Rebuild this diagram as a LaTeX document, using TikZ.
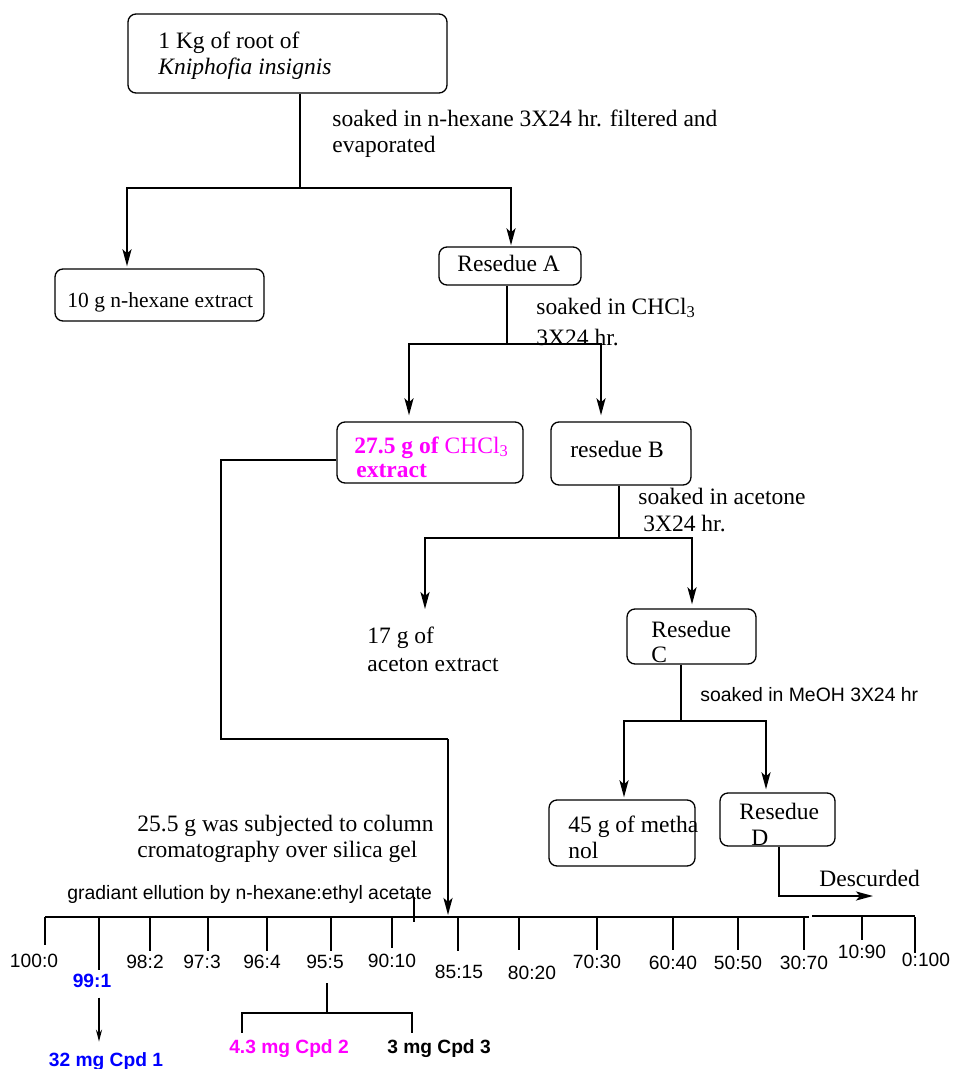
\documentclass[tikz,border=0pt]{standalone}
\usepackage{fontspec}
\setmainfont{Liberation Serif}
\setsansfont{Liberation Sans}
\usetikzlibrary{arrows.meta, positioning, fit}

\definecolor{cpdblue}{RGB}{0,0,255}
\definecolor{cpdpink}{RGB}{255,0,255}

\tikzset{
  stage/.style={draw, rounded corners=4pt, line width=0.65pt, inner sep=0pt},
  txt/.style={anchor=base west, inner sep=0pt, align=left,
    font=\fontsize{11.75}{13}\selectfont},
  stxt/.style={anchor=base west, inner sep=0pt,
    font=\sffamily\fontsize{9.7}{12}\selectfont},
  ratio/.style={anchor=base, inner sep=0pt,
    font=\sffamily\fontsize{9.6}{12}\selectfont},
  cpd/.style={anchor=base, inner sep=0pt,
    font=\sffamily\bfseries\fontsize{9.6}{12}\selectfont},
  flow/.style={line width=1.15pt},
  guide/.style={line width=0.6pt},
}

\begin{document}
\begin{tikzpicture}[x=0.5pt, y=-0.5pt, >={Stealth[length=8.5pt, width=4.5pt, inset=2pt]}]
    \useasboundingbox (0,0) rectangle (954,1069);

    % Define boxes
    \node[stage, fit={(128,14)(447,93)}] (root) {};
    \node[stage, fit={(55,269)(264,321)}] (hex) {};
    \node[stage, fit={(439,247)(581,285)}] (resA) {};
    \node[stage, fit={(337,422)(523,483)}] (chl) {};
    \node[stage, fit={(551,422)(691,485)}] (resB) {};
    \node[stage, fit={(627,609)(756,664)}] (resC) {};
    \node[stage, fit={(549,800)(695,866)}] (meth) {};
    \node[stage, fit={(720,793)(835,846)}] (resD) {};

    % Box texts (multi-line ones sit on their last line)
    \node[txt] (rootT) at (158,75) {1 Kg of root of\\\textit{Kniphofia insignis}};
    \node[txt, font=\fontsize{10.75}{13}\selectfont] (hexT) at (67,307) {10 g n-hexane extract};
    \node[txt] (resAT) at (457,271) {Resedue A};
    \node[txt, text=cpdpink] (chlT) at (354,477) {\textbf{27.5 g of} CHCl\textsubscript{3}\\[-1pt]\hspace{1pt}\textbf{extract}};
    \node[txt] (resBT) at (570,457) {resedue B};
    \node[txt] (resCT) at (651,662) {Resedue\\[-0.5pt]C};
    \node[txt] (methT) at (568,858) {45 g of metha\\nol};
    \node[txt] (resDT) at (739,845) {Resedue\\\hspace{6pt}D};
    \node[txt] (acet) at (367,671) {17 g of\\[1pt]aceton extract};
    \node[txt] (disc) at (819,886) {Descurded};

    % Conditions
    \node[txt] (s1) at (332,153) {soaked in n-hexane 3X24 hr. filtered and\\evaporated};
    \node[txt] (s2) at (536,345) {soaked in CHCl\textsubscript{3}\\[2.5pt]3X24 hr.};
    \node[txt] (s3) at (638,531) {soaked in acetone\\[0.5pt]\hspace{2.5pt}3X24 hr.};
    \node[stxt] (s4) at (700,701) {soaked in MeOH 3X24 hr};
    \node[txt] (col) at (137,857) {25.5 g was subjected to column\\cromatography over silica gel};
    \node[stxt] (grad) at (67,899) {gradiant ellution by n-hexane:ethyl acetate};

    % Junctions
    \coordinate (j1) at (300,188);
    \coordinate (j1l) at (127,188);
    \coordinate (j1r) at (511,188);
    \coordinate (j2) at (507,344);
    \coordinate (j2l) at (409,344);
    \coordinate (j2r) at (601,344);
    \coordinate (j3) at (619,538);
    \coordinate (j3l) at (425,538);
    \coordinate (j3r) at (692,538);
    \coordinate (j4) at (681,721);
    \coordinate (j4l) at (624,721);
    \coordinate (j4r) at (766,721);
    \coordinate (d0) at (779,896);
    \coordinate (dx) at (873,896);
    \coordinate (k1) at (221,460);
    \coordinate (k2) at (221,739);
    \coordinate (k3) at (448,739);

    \draw[flow] (j1 |- root.south) -- (j1);
    \draw[flow, ->, shorten >=1pt] (j1) -| (j1l |- hex.north);
    \draw[flow, ->, shorten >=0.5pt] (j1) -| (j1r |- resA.north);

    \draw[flow] (j2 |- resA.south) -- (j2);
    \draw[flow, ->, shorten >=3pt] (j2) -| (j2l |- chl.north);
    \draw[flow, ->, shorten >=3pt] (j2) -| (j2r |- resB.north);

    \draw[flow] (j3 |- resB.south) -- (j3);
    \draw[flow, ->, shorten >=8.5pt] (j3) -| (j3l |- acet.north);
    \draw[flow, ->, shorten >=2pt] (j3) -| (j3r |- resC.north);

    \draw[flow] (j4 |- resC.south) -- (j4);
    \draw[flow, ->, shorten >=1pt] (j4) -| (j4l |- meth.north);
    \draw[flow, ->, shorten >=1.5pt] (j4) -| (j4r |- resD.north);

    \draw[flow, ->] (d0 |- resD.south) -- (d0) -- (dx);

    % Column
    \coordinate (ax0) at (45,917);
    \coordinate (ax1) at (77,917);
    \coordinate (ax2) at (809,917);
    \coordinate (ax3) at (812,916);
    \coordinate (ax4) at (915,916);

    \draw[guide] (chl.west |- k1) -- (k1) -- (k2) -- (k3);
    \draw[flow, ->, shorten >=1pt] (k3) -- (k3 |- ax1);

    \draw[guide] (ax0) -- (ax1);
    \draw[line width=1pt] (ax1) -- (ax2);
    \draw[guide] (ax3) -- (ax4);
    \draw[guide] (414,897) -- (414,922);

    \foreach \tx/\ty/\lx/\ly/\r in {45/945/34/967/100:0, 150/951/145/968/98:2,
        208/951/202/968/97:3, 267/951/262/968/96:4, 331/951/325/968/95:5,
        392/948/392/967/90:10, 458/951/459/978/85:15, 519/950/532/979/80:20,
        597/950/597/968/70:30, 673/950/673/969/60:40, 738/950/738/969/50:50,
        804/950/804/969/30:70, 862/940/862/958/10:90, 915/953/926/966/0:100}
    {
      \draw[guide] (\tx,917) -- (\tx,\ty);
      \node[ratio] (r\r) at (\lx,\ly) {\r};
    }

    % Fractions
    \coordinate (t99) at (99,917);
    \coordinate (b0) at (327,1013);
    \coordinate (b1) at (242,1013);
    \coordinate (b2) at (412,1013);

    \draw[guide] (t99) -- (99,970);
    \node[cpd, text=cpdblue] (r1) at (92,987) {99:1};
    \node[cpd, text=cpdblue] (c1) at (106,1066) {32 mg Cpd 1};
    \node[cpd, text=cpdpink] (c2) at (289,1053) {4.3 mg Cpd 2};
    \node[cpd] (c3) at (439,1053) {3 mg Cpd 3};

    \draw[line width=0.8pt, -{Stealth[length=6pt, width=3pt]}, shorten <=5pt, shorten >=5pt]
        (r1.south -| t99) -- (c1.north -| t99);
    \draw[guide] (b0) ++(0,-30) -- (b0);
    \draw[guide, shorten <=3pt, shorten >=3pt] (c2.north -| b1) -- (b1) -- (b2) -- (c3.north -| b2);

\end{tikzpicture}
\end{document}
